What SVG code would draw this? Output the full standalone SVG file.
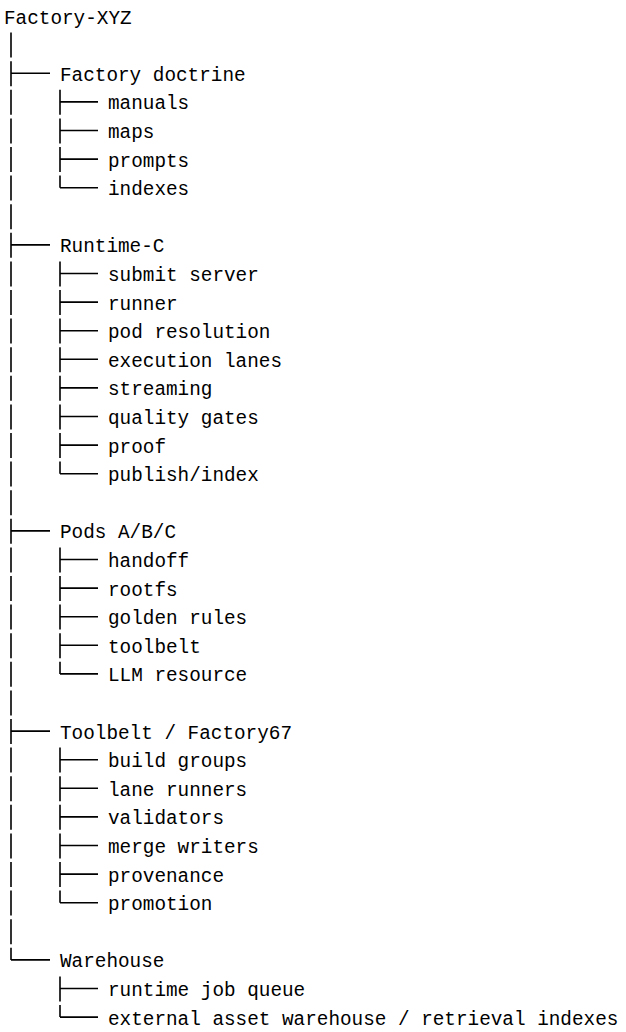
<svg xmlns="http://www.w3.org/2000/svg" width="626" height="1032" viewBox="0 0 626 1032">
<style>
text{font-family:"Liberation Mono","DejaVu Sans Mono",monospace;font-size:19.33px;fill:#000}
.v{stroke:#000;stroke-width:1.6;fill:none;stroke-dasharray:25 3.6}
.h{stroke:#000;stroke-width:1.6;fill:none}
</style>
<rect width="626" height="1032" fill="#fff"/>
<g id="connectors">
<path class="v" d="M11 32.6V959.9"/>
<path class="h" d="M11 73.3H50M11 244.9H50M11 530.9H50M11 731.1H50M11 959.9H50"/>
<path class="v" d="M60 89.8V187.7M60 261.4V473.7M60 547.4V673.9M60 747.6V902.7M60 976.4V1017.1"/>
<path class="h" d="M60 101.9H98M60 130.5H98M60 159.1H98M60 187.7H98M60 273.5H98M60 302.1H98M60 330.7H98M60 359.3H98M60 387.9H98M60 416.5H98M60 445.1H98M60 473.7H98M60 559.5H98M60 588.1H98M60 616.7H98M60 645.3H98M60 673.9H98M60 759.7H98M60 788.3H98M60 816.9H98M60 845.5H98M60 874.1H98M60 902.7H98M60 988.5H98M60 1017.1H98"/>
</g>
<g id="root"><text x="4" y="23.5">Factory-XYZ</text></g>
<g id="doctrine"><text x="60" y="80.7">Factory doctrine</text></g>
<g id="manuals"><text x="108" y="109.3">manuals</text></g>
<g id="maps"><text x="108" y="137.9">maps</text></g>
<g id="prompts"><text x="108" y="166.5">prompts</text></g>
<g id="indexes"><text x="108" y="195.1">indexes</text></g>
<g id="runtime"><text x="60" y="252.3">Runtime-C</text></g>
<g id="submit-server"><text x="108" y="280.9">submit server</text></g>
<g id="runner"><text x="108" y="309.5">runner</text></g>
<g id="pod-resolution"><text x="108" y="338.1">pod resolution</text></g>
<g id="execution-lanes"><text x="108" y="366.7">execution lanes</text></g>
<g id="streaming"><text x="108" y="395.3">streaming</text></g>
<g id="quality-gates"><text x="108" y="423.9">quality gates</text></g>
<g id="proof"><text x="108" y="452.5">proof</text></g>
<g id="publish-index"><text x="108" y="481.1">publish/index</text></g>
<g id="pods"><text x="60" y="538.3">Pods A/B/C</text></g>
<g id="handoff"><text x="108" y="566.9">handoff</text></g>
<g id="rootfs"><text x="108" y="595.5">rootfs</text></g>
<g id="golden-rules"><text x="108" y="624.1">golden rules</text></g>
<g id="toolbelt"><text x="108" y="652.7">toolbelt</text></g>
<g id="llm-resource"><text x="108" y="681.3">LLM resource</text></g>
<g id="toolbelt-factory67"><text x="60" y="738.5">Toolbelt / Factory67</text></g>
<g id="build-groups"><text x="108" y="767.1">build groups</text></g>
<g id="lane-runners"><text x="108" y="795.7">lane runners</text></g>
<g id="validators"><text x="108" y="824.3">validators</text></g>
<g id="merge-writers"><text x="108" y="852.9">merge writers</text></g>
<g id="provenance"><text x="108" y="881.5">provenance</text></g>
<g id="promotion"><text x="108" y="910.1">promotion</text></g>
<g id="warehouse"><text x="60" y="967.3">Warehouse</text></g>
<g id="runtime-job-queue"><text x="108" y="995.9">runtime job queue</text></g>
<g id="external-asset"><text x="108" y="1024.5">external asset warehouse / retrieval indexes</text></g>
</svg>
